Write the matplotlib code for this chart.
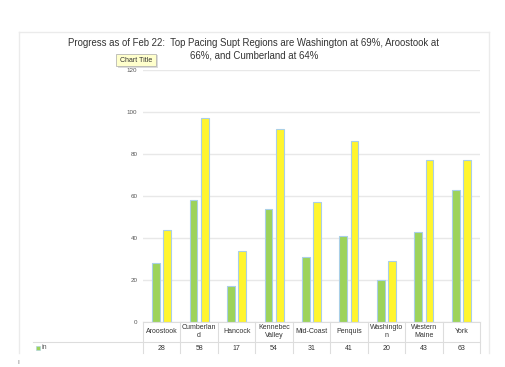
import numpy as np
import matplotlib.pyplot as plt
from matplotlib.lines import Line2D
from matplotlib.patches import Rectangle

plt.rcParams['font.family'] = ['Liberation Sans', 'DejaVu Sans']

# data
regions = ['Aroostook', 'Cumberlan\nd', 'Hancock', 'Kennebec\nValley', 'Mid-Coast',
           'Penquis', 'Washingto\nn', 'Western\nMaine', 'York']
in_vals = [28, 58, 17, 54, 31, 41, 20, 43, 63]
target_vals = [44, 97, 34, 92, 57, 86, 29, 77, 77]
yticks = [0, 20, 40, 60, 80, 100, 120]

W, H = 506, 367
fig = plt.figure(figsize=(W / 100, H / 100), dpi=100)


def fx(x):
    return x / W


def fy(y):
    return 1 - y / H


def hline(y, x0, x1, color='#dddddd', lw=0.8):
    fig.add_artist(Line2D([fx(x0), fx(x1)], [fy(y), fy(y)], color=color, lw=lw))


def vline(x, y0, y1, color='#dddddd', lw=0.8):
    fig.add_artist(Line2D([fx(x), fx(x)], [fy(y0), fy(y1)], color=color, lw=lw))


# outer chart frame
hline(32, 19, 489, color='#ebebeb', lw=1.0)
vline(19, 32, 353, color='#ebebeb', lw=1.0)
vline(489, 32, 353, color='#ebebeb', lw=1.0)

ax_l, ax_r, ax_t, ax_b = 143, 480, 70, 322
ax = fig.add_axes([fx(ax_l), fy(ax_b), (ax_r - ax_l) / W, (ax_b - ax_t) / H])

x = np.arange(len(regions))
ax.bar(x - 0.15, in_vals, width=0.21, color='#9dd35a', edgecolor='#a9cfe6', linewidth=0.8, zorder=3)
ax.bar(x + 0.15, target_vals, width=0.21, color='#fff52e', edgecolor='#a9cfe6', linewidth=0.8, zorder=3)

ax.set_xlim(-0.5, len(regions) - 0.5)
ax.set_ylim(0, 120)
ax.set_yticks(yticks)
ax.set_yticklabels([str(t) for t in yticks], fontsize=4.5, color='#555555')
ax.tick_params(axis='y', length=0, pad=4)
ax.set_xticks([])
ax.yaxis.grid(True, color='#e8e8e8', lw=1.0, zorder=0)
for s in ax.spines.values():
    s.set_visible(False)

# data table under the chart
col_w = (ax_r - ax_l) / len(regions)
hline(321.7, ax_l, ax_r)
hline(341.7, 33, ax_r)
for i in range(len(regions) + 1):
    vline(ax_l + i * col_w, 321.7, 353)
for i, (name, v) in enumerate(zip(regions, in_vals)):
    cx = ax_l + (i + 0.5) * col_w
    fig.text(fx(cx), fy(331.5), name, ha='center', va='center', fontsize=5,
             color='#333333', linespacing=1.25)
    fig.text(fx(cx), fy(348), str(v), ha='center', va='center', fontsize=5, color='#333333')

# legend key in the table
fig.add_artist(Rectangle((fx(36), fy(349.5)), 4 / W, 4 / H, transform=fig.transFigure,
                         facecolor='#9dd35a', edgecolor='#a9cfe6', lw=0.4))
fig.text(fx(42), fy(347.5), 'in', ha='left', va='center', fontsize=5, color='#555555')

# title
fig.text(fx(254), fy(43), 'Progress as of Feb 22:  Top Pacing Supt Regions are Washington at 69%, Aroostook at',
         ha='center', va='center', fontsize=6.9, color='#333333')
fig.text(fx(254), fy(56), '66%, and Cumberland at 64%', ha='center', va='center',
         fontsize=6.9, color='#333333')

# "Chart Title" tooltip
fig.add_artist(Rectangle((fx(118), fy(67.5)), 40 / W, 12 / H, transform=fig.transFigure,
                         facecolor='#bbbbbb', edgecolor='none', alpha=0.5))
fig.add_artist(Rectangle((fx(116), fy(66)), 40 / W, 12 / H, transform=fig.transFigure,
                         facecolor='#ffffcc', edgecolor='#aaaaaa', lw=0.5))
fig.text(fx(136), fy(60), 'Chart Title', ha='center', va='center', fontsize=5, color='#333333')

# text cursor at bottom left
fig.text(fx(18), fy(362), 'I', ha='center', va='center', fontsize=4.5, color='#666666')

fig.savefig('out.png', dpi=100)
